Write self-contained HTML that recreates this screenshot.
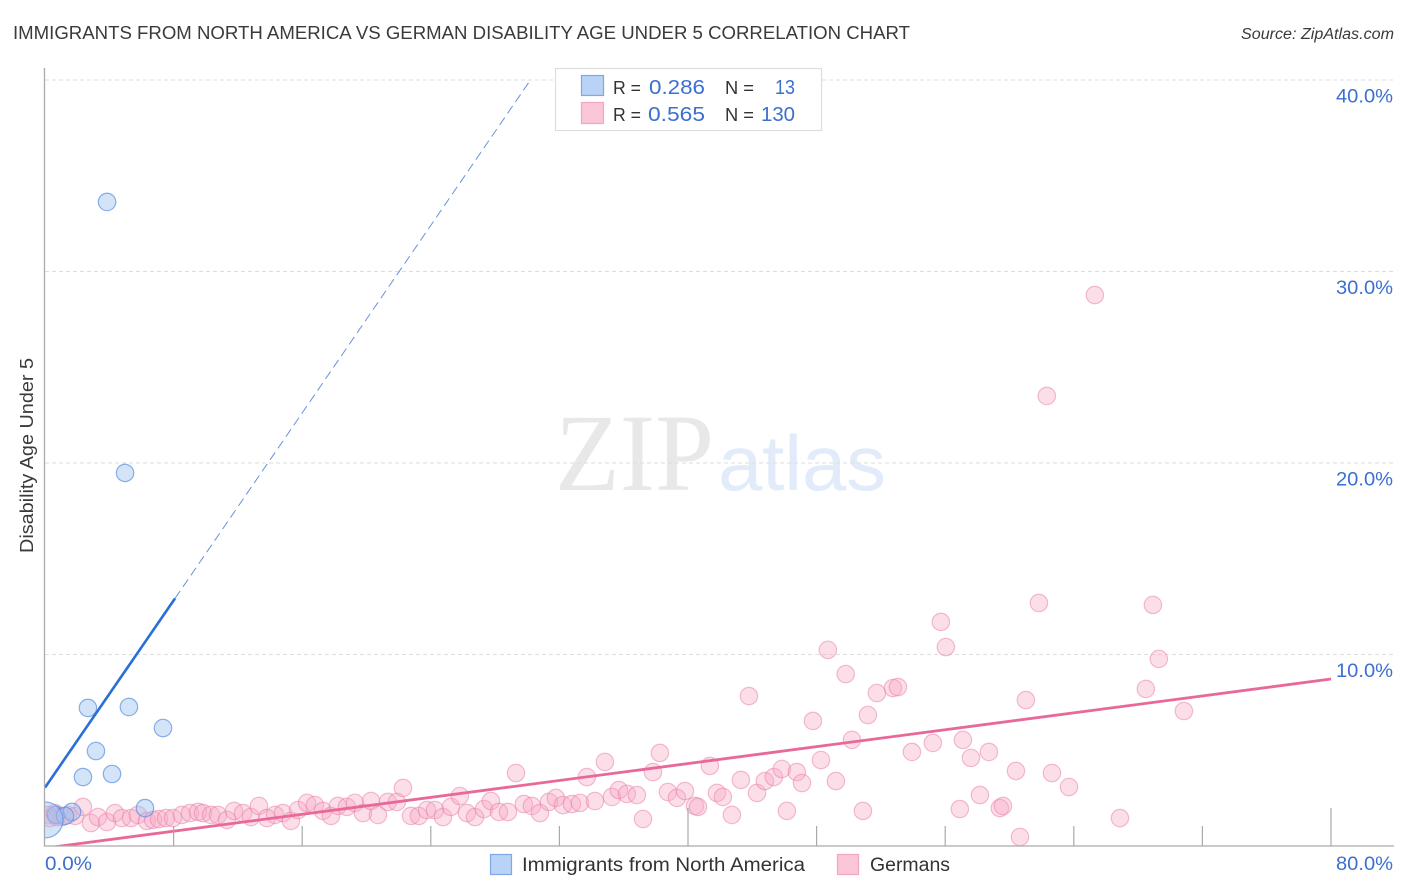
<!DOCTYPE html>
<html lang="en">
<head>
<meta charset="utf-8">
<title>Immigrants from North America vs German Disability Age Under 5 Correlation Chart</title>
<style>
html,body{margin:0;padding:0;background:#fff;width:1406px;height:892px;overflow:hidden}
svg{display:block;position:absolute;left:0;top:0}
text{font-family:"Liberation Sans",sans-serif}
</style>
</head>
<body>
<svg id="chart" xmlns="http://www.w3.org/2000/svg" width="1406" height="892" viewBox="0 0 1406 892">
  <defs>
    <clipPath id="plot-clip"><rect x="45" y="60" width="1349" height="786"/></clipPath>
  </defs>
  <rect x="0" y="0" width="1406" height="892" fill="#fff"/>
  <text x="13" y="39" font-size="18.5" fill="#3a3a3a" textLength="897" lengthAdjust="spacingAndGlyphs">IMMIGRANTS FROM NORTH AMERICA VS GERMAN DISABILITY AGE UNDER 5 CORRELATION CHART</text>
  <text x="1394" y="39" font-size="15.5" font-style="italic" fill="#3a3a3a" text-anchor="end" textLength="153" lengthAdjust="spacingAndGlyphs">Source: ZipAtlas.com</text>
  <text transform="translate(33,553) rotate(-90)" font-size="18" fill="#3a3a3a" textLength="195" lengthAdjust="spacingAndGlyphs">Disability Age Under 5</text>
  <g>
    <text x="555" y="490" font-size="110" fill="#e8e8e8" style="font-family:'Liberation Serif',serif" textLength="159" lengthAdjust="spacingAndGlyphs">ZIP</text>
    <text x="718" y="490" font-size="78" fill="#e2ebf9" textLength="168" lengthAdjust="spacingAndGlyphs">atlas</text>
  </g>
  <g id="grid"></g>
  <g id="series-pink" clip-path="url(#plot-clip)"></g>
  <g id="series-blue" clip-path="url(#plot-clip)"></g>
  <g id="trends" clip-path="url(#plot-clip)"></g>
  <rect x="0" y="795" width="44" height="60" fill="#fff"/>
  <rect x="44" y="846" width="1350" height="6" fill="#fff"/>
  <g id="axes"></g>
  <g id="tick-labels"></g>

  <g>
    <rect x="555.5" y="68.5" width="266" height="62" fill="#fff" stroke="#ddd" stroke-width="1.2"/>
    <rect x="581.5" y="75.5" width="22" height="20" fill="#b9d3f7" stroke="#7ea9e6" stroke-width="1.2"/>
    <rect x="581.5" y="102.5" width="22" height="21" fill="#fcc6d9" stroke="#f2a6c1" stroke-width="1.2"/>
    <text x="613" y="94" font-size="18" fill="#333" textLength="28" lengthAdjust="spacingAndGlyphs">R =</text>
    <text x="649" y="94" font-size="20" fill="#3b6fd0" textLength="56" lengthAdjust="spacingAndGlyphs">0.286</text>
    <text x="725" y="94" font-size="18" fill="#333" textLength="29" lengthAdjust="spacingAndGlyphs">N =</text>
    <text x="775" y="94" font-size="20" fill="#3b6fd0" textLength="20" lengthAdjust="spacingAndGlyphs">13</text>
    <text x="613" y="121" font-size="18" fill="#333" textLength="28" lengthAdjust="spacingAndGlyphs">R =</text>
    <text x="648" y="121" font-size="20" fill="#3b6fd0" textLength="57" lengthAdjust="spacingAndGlyphs">0.565</text>
    <text x="725" y="121" font-size="18" fill="#333" textLength="29" lengthAdjust="spacingAndGlyphs">N =</text>
    <text x="761" y="121" font-size="20" fill="#3b6fd0" textLength="34" lengthAdjust="spacingAndGlyphs">130</text>
  </g>

  <g>
    <rect x="490.5" y="854.5" width="21" height="20" fill="#b9d3f7" stroke="#7ea9e6" stroke-width="1.2"/>
    <text x="522" y="871" font-size="19" fill="#333" textLength="283" lengthAdjust="spacingAndGlyphs">Immigrants from North America</text>
    <rect x="837.5" y="854.5" width="21" height="20" fill="#fcc6d9" stroke="#f2a6c1" stroke-width="1.2"/>
    <text x="870" y="871" font-size="19" fill="#333" textLength="80" lengthAdjust="spacingAndGlyphs">Germans</text>
  </g>
</svg>
<script>
// Axis ticks
var xTickValues = [0, 8, 16, 24, 32, 40, 48, 56, 64, 72, 80];
var xMajorTicks = [40, 80];
var xLabelValues = [0, 80];
var xLabelText = ["0.0%", "80.0%"];
var yTickValues = [10, 20, 30, 40];
var yLabelText = ["10.0%", "20.0%", "30.0%", "40.0%"];

// Immigrants from North America (x %, y %, relative weight)
var blueX = [3.86, 4.98, 2.67, 5.22, 7.34, 3.17, 2.36, 4.17, 6.22, 0.68, 1.68, 1.24, 0];
var blueY = [33.63, 19.48, 7.21, 7.26, 6.16, 4.96, 3.60, 3.76, 1.98, 1.62, 1.78, 1.57, 1.36];
var blueWeight = [1, 1, 1, 1, 1, 1, 1, 1, 1, 1, 1, 1, 4.3];

// Germans (x %, y %)
var pinkX = [0.19, 0.31, 0.62, 0.75, 1.06, 1.43, 1.87, 2.36, 2.86, 3.30, 3.86, 4.35, 4.79, 5.35, 5.78, 6.34, 6.72, 7.09, 7.53, 7.96,
  8.52, 9.02, 9.52, 9.83, 10.33, 10.76, 11.32, 11.76, 12.32, 12.81, 13.31, 13.81, 14.31, 14.80, 15.30, 15.74, 16.30, 16.79, 17.29, 17.79,
  18.22, 18.78, 19.28, 19.78, 20.28, 20.71, 21.33, 21.89, 22.27, 22.77, 23.26, 23.76, 24.26, 24.76, 25.25, 25.81, 26.25, 26.75, 27.31, 27.74,
  28.24, 28.80, 29.30, 29.79, 30.29, 30.79, 31.35, 31.78, 32.22, 32.78, 33.28, 33.71, 34.21, 34.83, 35.27, 35.70, 36.20, 36.82, 37.20, 37.82,
  38.25, 38.75, 39.31, 39.81, 40.43, 40.62, 41.36, 41.80, 42.17, 42.73, 43.29, 43.79, 44.29, 44.78, 45.34, 45.84, 46.15, 46.77, 47.09, 47.77,
  48.27, 48.70, 49.20, 49.81, 50.20, 50.88, 51.19, 51.75, 52.75, 53.06, 53.93, 55.23, 55.73, 56.04, 56.91, 57.10, 57.60, 58.16, 58.72, 59.40,
  59.59, 60.40, 60.65, 61.02, 61.83, 62.32, 62.64, 63.70, 65.31, 66.87, 68.48, 68.92, 69.29, 70.85];
var pinkY = [1.62, 1.46, 1.72, 1.51, 1.51, 1.62, 1.57, 2.04, 1.20, 1.51, 1.25, 1.72, 1.46, 1.46, 1.62, 1.31, 1.36, 1.41, 1.46, 1.46,
  1.62, 1.72, 1.78, 1.72, 1.62, 1.62, 1.36, 1.83, 1.72, 1.51, 2.09, 1.46, 1.62, 1.72, 1.31, 1.88, 2.25, 2.14, 1.83, 1.57,
  2.09, 2.04, 2.25, 1.72, 2.35, 1.62, 2.30, 2.30, 3.03, 1.57, 1.57, 1.88, 1.88, 1.51, 2.04, 2.61, 1.72, 1.51, 1.93, 2.35,
  1.78, 1.78, 3.81, 2.19, 2.09, 1.72, 2.30, 2.51, 2.14, 2.19, 2.25, 3.60, 2.35, 4.39, 2.56, 2.92, 2.72, 2.66, 1.41, 3.86,
  4.86, 2.82, 2.51, 2.87, 2.09, 2.04, 4.18, 2.77, 2.56, 1.62, 3.45, 7.83, 2.77, 3.39, 3.60, 4.02, 1.83, 3.86, 3.29, 6.53,
  4.49, 10.24, 3.39, 8.98, 5.54, 1.83, 6.84, 7.99, 8.25, 8.30, 4.91, 5.38, 11.70, 10.39, 1.93, 5.54, 4.60, 2.66, 4.91, 1.98,
  2.09, 3.92, 0.47, 7.62, 12.69, 23.50, 3.81, 3.08, 28.77, 1.46, 8.20, 12.59, 9.77, 7.05];

// Trend lines, endpoints in data values
var blueTrendX = [0, 8.09, 30.2];
var blueTrendY = [3.05, 12.93, 40];
var pinkTrendX = [0, 80];
var pinkTrendY = [-0.11, 8.72];

var NS = "http://www.w3.org/2000/svg";
function xScale(v) { return 45 + v * 16.075; }
function yScale(v) { return 846 - v * 19.15; }
function make(parentId, tag, attrs, text) {
  var el = document.createElementNS(NS, tag);
  for (var k in attrs) { el.setAttribute(k, attrs[k]); }
  if (text !== undefined) { el.textContent = text; }
  document.getElementById(parentId).appendChild(el);
  return el;
}

// Gridlines and y labels
yTickValues.forEach(function (v, i) {
  var grid = make("grid", "line", {x1: 45, x2: 1394, y1: yScale(v), y2: yScale(v), stroke: "#ddd", "stroke-width": 1, "stroke-dasharray": "4 3"});
  
  
  var label = make("tick-labels", "text", {x: 1393, y: yScale(v) + 22.5, "font-size": 19, fill: "#3b6fd0", "text-anchor": "end", textLength: 57, lengthAdjust: "spacingAndGlyphs"}, yLabelText[i]);
  
  
});

// Axes
var yAxis = make("axes", "line", {x1: 44.5, x2: 44.5, y1: 68, y2: 846.5, stroke: "#aaa", "stroke-width": 1.3});


var xAxis = make("axes", "line", {x1: 44, x2: 1394, y1: 846, y2: 846, stroke: "#aaa", "stroke-width": 1.3});


xTickValues.forEach(function (v) {
  if (v === 0) { return; }
  var top = xMajorTicks.indexOf(v) >= 0 ? 808 : 826;
  var tick = make("axes", "line", {x1: xScale(v), x2: xScale(v), y1: top, y2: 846, stroke: "#aaa", "stroke-width": 1.2});
  
  
});
xLabelValues.forEach(function (v, i) {
  var isLast = i === xLabelValues.length - 1;
  var label = make("tick-labels", "text", {x: isLast ? 1393 : 45, y: 870, "font-size": 19, fill: "#3b6fd0", "text-anchor": isLast ? "end" : "start", textLength: isLast ? 57 : 47, lengthAdjust: "spacingAndGlyphs"}, xLabelText[i]);
  
  
});

// Points
pinkX.forEach(function (v, i) {
  var pt = make("series-pink", "circle", {cx: xScale(v), cy: yScale(pinkY[i]), r: 8.7, fill: "#f8a8c4", "fill-opacity": 0.38, stroke: "#e87da3", "stroke-opacity": 0.5, "stroke-width": 1.2});
  
  
});
blueX.forEach(function (v, i) {
  var pt = make("series-blue", "circle", {cx: xScale(v), cy: yScale(blueY[i]), r: 8.7 * Math.sqrt(blueWeight[i]), fill: "#a0c4f0", "fill-opacity": 0.45, stroke: "#5b8fe0", "stroke-opacity": 0.7, "stroke-width": 1.2});
  
  
});

// Trend lines
var blueSolid = make("trends", "line", {x1: xScale(blueTrendX[0]), y1: yScale(blueTrendY[0]), x2: xScale(blueTrendX[1]), y2: yScale(blueTrendY[1]), stroke: "#2a6fd6", "stroke-width": 2.6});


var blueDash = make("trends", "line", {x1: xScale(blueTrendX[1]), y1: yScale(blueTrendY[1]), x2: xScale(blueTrendX[2]), y2: yScale(blueTrendY[2]), stroke: "#4a80d8", "stroke-width": 1, "stroke-dasharray": "9 5", "stroke-opacity": 0.85});


var pinkLine = make("trends", "line", {x1: xScale(pinkTrendX[0]), y1: yScale(pinkTrendY[0]), x2: xScale(pinkTrendX[1]), y2: yScale(pinkTrendY[1]), stroke: "#e8689a", "stroke-width": 2.8});


</script>
</body>
</html>
